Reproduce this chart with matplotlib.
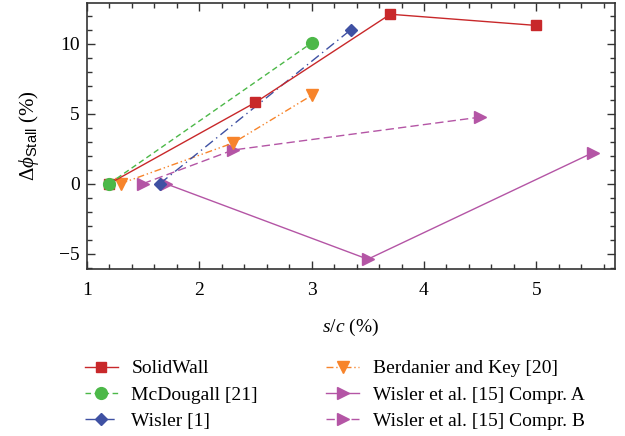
import matplotlib
matplotlib.use("Agg")
import matplotlib.pyplot as plt
from matplotlib.ticker import MultipleLocator

plt.rcParams['font.family'] = ['Liberation Serif', 'DejaVu Serif']
plt.rcParams['mathtext.fontset'] = 'custom'
plt.rcParams['mathtext.rm'] = 'Liberation Serif'
plt.rcParams['mathtext.it'] = 'Liberation Serif:italic'
plt.rcParams['mathtext.sf'] = 'Liberation Sans'

# data
solid_x = [1.2, 2.5, 3.7, 5.0]
solid_y = [0.0, 5.8, 12.1, 11.3]
mcd_x = [1.2, 3.0]
mcd_y = [0.0, 10.05]
wis_x = [1.65, 3.35]
wis_y = [0.0, 11.0]
berd_x = [1.3, 2.3, 3.0]
berd_y = [0.0, 2.9, 6.3]
wisA_x = [1.7, 3.5, 5.5]
wisA_y = [0.0, -5.4, 2.2]
wisB_x = [1.5, 2.3, 4.5]
wisB_y = [0.0, 2.4, 4.75]

fig = plt.figure(figsize=(6.25, 4.36), dpi=100)
ax = fig.add_axes([0.139, 0.383, 0.845, 0.610])

ax.plot(wisA_x, wisA_y, '-', color='#b455a5', lw=1, marker='>', ms=8, label='Wisler et al. [15] Compr. A', zorder=2)
ax.plot(wisB_x, wisB_y, color='#b455a5', lw=1, ls=(0, (6, 3)), marker='>', ms=8, label='Wisler et al. [15] Compr. B', zorder=2)
ax.plot(berd_x, berd_y, color='#f7842b', lw=1, ls=(0, (5, 2, 1, 2, 1, 2)), marker='v', ms=8, label='Berdanier and Key [20]', zorder=3)
ax.plot(wis_x, wis_y, color='#3f51a3', lw=1, ls=(0, (7, 3, 1, 3)), marker='D', ms=6.5, label='Wisler [1]', zorder=3)
ax.plot(solid_x, solid_y, '-', color='#c8282a', lw=1, marker='s', ms=7, label='SolidWall', zorder=4)
ax.plot(mcd_x, mcd_y, color='#4cb848', lw=1, ls=(0, (4, 2.5)), marker='o', ms=8.5, label='McDougall [21]', zorder=5)

ax.set_xlim(1, 5.7)
ax.set_ylim(-6.1, 12.9)
ax.xaxis.set_major_locator(MultipleLocator(1))
ax.xaxis.set_minor_locator(MultipleLocator(0.2))
ax.yaxis.set_major_locator(MultipleLocator(5))
ax.yaxis.set_minor_locator(MultipleLocator(1))
ax.tick_params(which='both', direction='in', top=True, right=True, labelsize=14, width=1, color='#333333')
ax.tick_params(which='major', length=6)
ax.tick_params(which='minor', length=3.5)
ax.tick_params(axis='x', which='major', pad=9)
ax.tick_params(axis='y', which='major', pad=5)
for s in ax.spines.values():
    s.set_linewidth(1.2)
    s.set_color('#333333')

ax.set_xlabel(r'$s/c$ (%)', fontsize=14, labelpad=13)
ax.set_ylabel(r'$\Delta\phi_{\mathsf{Stall}}$ (%)', fontsize=15, labelpad=13)

h, l = ax.get_legend_handles_labels()
order = ['SolidWall', 'McDougall [21]', 'Wisler [1]', 'Berdanier and Key [20]',
         'Wisler et al. [15] Compr. A', 'Wisler et al. [15] Compr. B']
hd = dict(zip(l, h))
fig.legend([hd[k] for k in order], order, ncol=2, frameon=False, fontsize=14,
           loc='upper left', bbox_to_anchor=(0.12, 0.197), handlelength=1.7,
           columnspacing=3.5, labelspacing=0.45, handletextpad=0.7, borderpad=0,
           markerscale=1.0)

fig.savefig('out.png', dpi=100)
